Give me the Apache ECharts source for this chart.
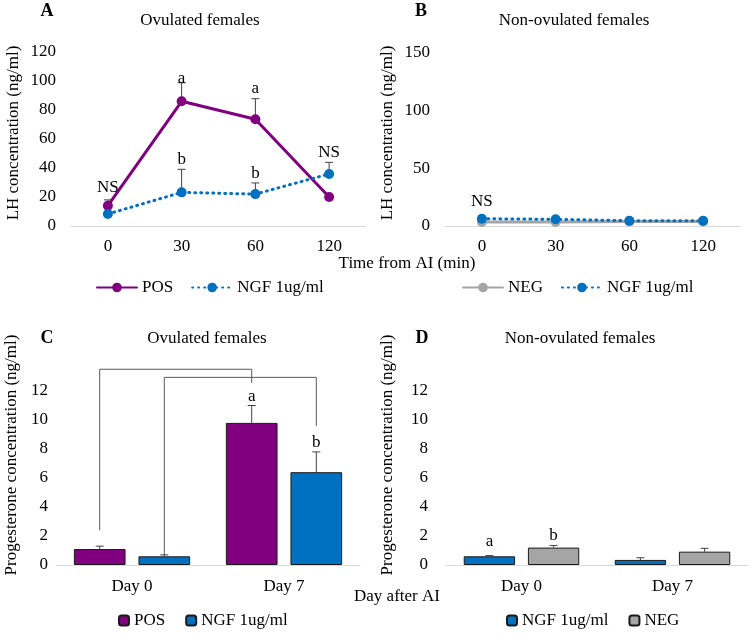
<!DOCTYPE html>
<html><head><meta charset="utf-8">
<script src="https://cdn.jsdelivr.net/npm/echarts@6/dist/echarts.min.js"></script>
<style>html,body{margin:0;padding:0;background:#fff}#c{width:750px;height:636px}</style>
</head><body><div id="c"></div>
<script>
// ---- data ----
const timeCats = ['0', '30', '60', '120'];
const lhPos = [14, 86, 73.6, 20];
const lhPosErr = [4, 12.8, 14.2, 0.8];
const lhNgfA = [8.3, 23.2, 22, 35.9];
const lhNgfAErr = [0.8, 15.9, 7.7, 8];
const lhNeg = [3.5, 3.5, 4, 4];
const lhNgfB = [6.3, 5.8, 4.6, 4.6];
const lhTicksA = [0, 20, 40, 60, 80, 100, 120];
const lhTicksB = [0, 50, 100, 150];
// annotation letters: [category, value of text baseline, text]
const lhLabelsA = [[0, 22.8, 'NS'], [1, 97.9, 'a'], [2, 91, 'a'], [1, 42, 'b'], [2, 32.4, 'b'], [3, 46.9, 'NS']];
const lhLabelsB = [[0, 16.5, 'NS']];

const dayCats = ['Day 0', 'Day 7'];
const p4Pos = [1.1, 9.8];
const p4PosErr = [0.2, 1.2];
const p4NgfC = [0.6, 6.4];
const p4NgfCErr = [0.1, 1.4];
const p4NgfD = [0.6, 0.35];
const p4NgfDErr = [0.05, 0.15];
const p4Neg = [1.2, 0.92];
const p4NegErr = [0.15, 0.23];
const p4Ticks = [0, 2, 4, 6, 8, 10, 12];
// [category, value of baseline, text, bar index]
const p4LabelsC = [[1, 11.26, 'a', 0], [1, 8.07, 'b', 1]];
const p4LabelsD = [[0, 1.22, 'a', 0], [0, 1.68, 'b', 1]];
// brackets: [fromCat, toCat, barIdx, yLeft, yTop, yRight]
const bracketsC = [[0, 1, 0, 2.4, 13.5, 12.55], [0, 1, 1, 0.7, 12.94, 9.6]];

// ---- styling ----
const FONT = 'Liberation Serif';
const TXT = '#000';
const PURPLE = '#800080';
const BLUE = '#0070C0';
const GRAY = '#A5A5A5';
const BAR_W = 0.34, BAR_GAP = 0.25;

function barOffset(api, nBars, idx) {
  if (!nBars) return 0;
  const band = api.size([1, 0])[0];
  const w = band * BAR_W, g = w * BAR_GAP;
  return -(nBars * w + (nBars - 1) * g) / 2 + w / 2 + idx * (w + g);
}

function errSeries(gi, vals, errs, nBars, barIdx) {
  return {
    type: 'custom', xAxisIndex: gi, yAxisIndex: gi, silent: true, z: 3,
    data: vals.map((v, i) => [i, v, v + errs[i]]),
    encode: { x: 0, y: [1, 2] },
    renderItem(params, api) {
      const i = api.value(0);
      if (!(api.value(2) > api.value(1))) return null;
      const p0 = api.coord([i, api.value(1)]);
      const p1 = api.coord([i, api.value(2)]);
      const x = p0[0] + barOffset(api, nBars, barIdx);
      const st = { stroke: '#404040', lineWidth: 1 };
      return { type: 'group', children: [
        { type: 'line', shape: { x1: x, y1: p0[1], x2: x, y2: p1[1] }, style: st },
        { type: 'line', shape: { x1: x - 4, y1: p1[1], x2: x + 4, y2: p1[1] }, style: st }
      ] };
    }
  };
}

function labelSeries(gi, items, nBars) {
  return {
    type: 'custom', xAxisIndex: gi, yAxisIndex: gi, silent: true, z: 5,
    data: items.map(d => [d[0], d[1]]),
    encode: { x: 0, y: 1 },
    renderItem(params, api) {
      const it = items[params.dataIndex];
      const p = api.coord([api.value(0), api.value(1)]);
      const x = p[0] + barOffset(api, nBars, it[3] || 0);
      return { type: 'text', style: { text: it[2], x: x, y: p[1] + 3, align: 'center', verticalAlign: 'bottom',
        font: '17px "' + FONT + '"', fill: TXT } };
    }
  };
}

function bracketSeries(gi, items, nBars) {
  return {
    type: 'custom', xAxisIndex: gi, yAxisIndex: gi, silent: true, z: 2, clip: false,
    data: items,
    encode: { x: [0, 1], y: [3, 4, 5] },
    renderItem(params, api) {
      const b = api.value(2);
      const dx = barOffset(api, nBars, b);
      const a = api.coord([api.value(0), api.value(3)]);
      const t = api.coord([api.value(0), api.value(4)]);
      const c = api.coord([api.value(1), api.value(5)]);
      const x1 = a[0] + dx, x2 = c[0] + dx;
      return { type: 'polyline', shape: { points: [[x1, a[1]], [x1, t[1]], [x2, t[1]], [x2, c[1]]] },
        style: { stroke: '#595959', lineWidth: 1, fill: null } };
    }
  };
}

const axisLabelStyle = { color: TXT, fontFamily: FONT, fontSize: 17 };
function xCat(gi, cats, margin) {
  return { type: 'category', gridIndex: gi, data: cats, boundaryGap: true,
    axisLine: { lineStyle: { color: '#D9D9D9', width: 1 } }, axisTick: { show: false },
    axisLabel: Object.assign({ margin: margin }, axisLabelStyle) };
}
function yVal(gi, ticks, margin) {
  return { type: 'value', gridIndex: gi, min: ticks[0], max: ticks[ticks.length - 1], interval: ticks[1] - ticks[0],
    axisLine: { show: false }, axisTick: { show: false }, splitLine: { show: false },
    axisLabel: Object.assign({ margin: margin }, axisLabelStyle) };
}

const lineBase = (name, gi, data, color, dotted) => ({
  name: name, type: 'line', xAxisIndex: gi, yAxisIndex: gi, data: data,
  symbol: 'circle', symbolSize: 10, z: 4,
  lineStyle: { color: color, width: 3, type: dotted ? [1, 5] : 'solid', cap: 'round' },
  itemStyle: { color: color }
});
const barBase = (name, gi, data, color) => ({
  name: name, type: 'bar', xAxisIndex: gi, yAxisIndex: gi, data: data,
  barWidth: (BAR_W * 100) + '%', barGap: (BAR_GAP * 100) + '%',
  itemStyle: { color: color, borderColor: '#1a1a1a', borderWidth: 1 }
});

const txt = (text, x, y, size, opts) => ({ type: 'text', x: x, y: y, silent: true,
  style: { text: text, font: (opts && opts.bold ? 'bold ' : '') + size + 'px "' + FONT + '"', fill: TXT,
    align: 'center', verticalAlign: 'middle' }, rotation: opts && opts.rot ? Math.PI / 2 : 0 });

const legendCommon = { textStyle: { color: TXT, fontFamily: FONT, fontSize: 17 }, formatter: n => n.trim(), selectedMode: false };

const option = {
  animation: false,
  backgroundColor: '#fff',
  grid: [
    { left: 71, top: 52, width: 295, height: 174 },
    { left: 445, top: 53, width: 295, height: 173 },
    { left: 56, top: 391, width: 304, height: 174 },
    { left: 446, top: 391, width: 302, height: 174 }
  ],
  xAxis: [xCat(0, timeCats, 12), xCat(1, timeCats, 12), xCat(2, dayCats, 13), xCat(3, dayCats, 13)],
  yAxis: [yVal(0, lhTicksA, 15), yVal(1, lhTicksB, 15), yVal(2, p4Ticks, 8), yVal(3, p4Ticks, 18)],
  legend: [
    Object.assign({ left: 91, top: 274, itemWidth: 40, itemHeight: 12, itemGap: 18, data: ['POS', 'NGF 1ug/ml'] }, legendCommon),
    Object.assign({ left: 457, top: 274, itemWidth: 40, itemHeight: 12, itemGap: 18, data: ['NEG', 'NGF 1ug/ml'] }, legendCommon),
    Object.assign({ left: 113, top: 607, itemWidth: 10, itemHeight: 10, itemGap: 20, data: ['POS ', 'NGF 1ug/ml '] }, legendCommon),
    Object.assign({ left: 501, top: 607, itemWidth: 10, itemHeight: 10, itemGap: 20, data: ['NGF 1ug/ml ', 'NEG '] }, legendCommon)
  ],
  series: [
    errSeries(0, lhPos, lhPosErr),
    errSeries(0, lhNgfA, lhNgfAErr),
    lineBase('POS', 0, lhPos, PURPLE, false),
    lineBase('NGF 1ug/ml', 0, lhNgfA, BLUE, true),
    labelSeries(0, lhLabelsA),
    lineBase('NEG', 1, lhNeg, GRAY, false),
    lineBase('NGF 1ug/ml', 1, lhNgfB, BLUE, true),
    labelSeries(1, lhLabelsB),
    barBase('POS ', 2, p4Pos, PURPLE),
    barBase('NGF 1ug/ml ', 2, p4NgfC, BLUE),
    errSeries(2, p4Pos, p4PosErr, 2, 0),
    errSeries(2, p4NgfC, p4NgfCErr, 2, 1),
    labelSeries(2, p4LabelsC, 2),
    bracketSeries(2, bracketsC, 2),
    barBase('NGF 1ug/ml ', 3, p4NgfD, BLUE),
    barBase('NEG ', 3, p4Neg, GRAY),
    errSeries(3, p4NgfD, p4NgfDErr, 2, 0),
    errSeries(3, p4Neg, p4NegErr, 2, 1),
    labelSeries(3, p4LabelsD, 2)
  ],
  graphic: [
    txt('A', 47, 11, 18, { bold: true }),
    txt('B', 421, 11, 18, { bold: true }),
    txt('C', 47, 338, 18, { bold: true }),
    txt('D', 422, 338, 18, { bold: true }),
    txt('Ovulated females', 200, 21, 17),
    txt('Non-ovulated females', 574, 21, 17),
    txt('Ovulated females', 207, 339, 17),
    txt('Non-ovulated females', 580, 339, 17),
    txt('LH concentration (ng/ml)', 14, 133, 17, { rot: true }),
    txt('LH concentration (ng/ml)', 388, 133, 17, { rot: true }),
    txt('Progesterone concentration (ng/ml)', 12, 455, 17, { rot: true }),
    txt('Progesterone concentration (ng/ml)', 388, 455, 17, { rot: true }),
    txt('Time from AI (min)', 407, 264, 17),
    txt('Day after AI', 397, 597, 17)
  ]
};
const chart = echarts.init(document.getElementById('c'), null, { renderer: 'canvas' });
chart.setOption(option);
</script>
</body></html>
